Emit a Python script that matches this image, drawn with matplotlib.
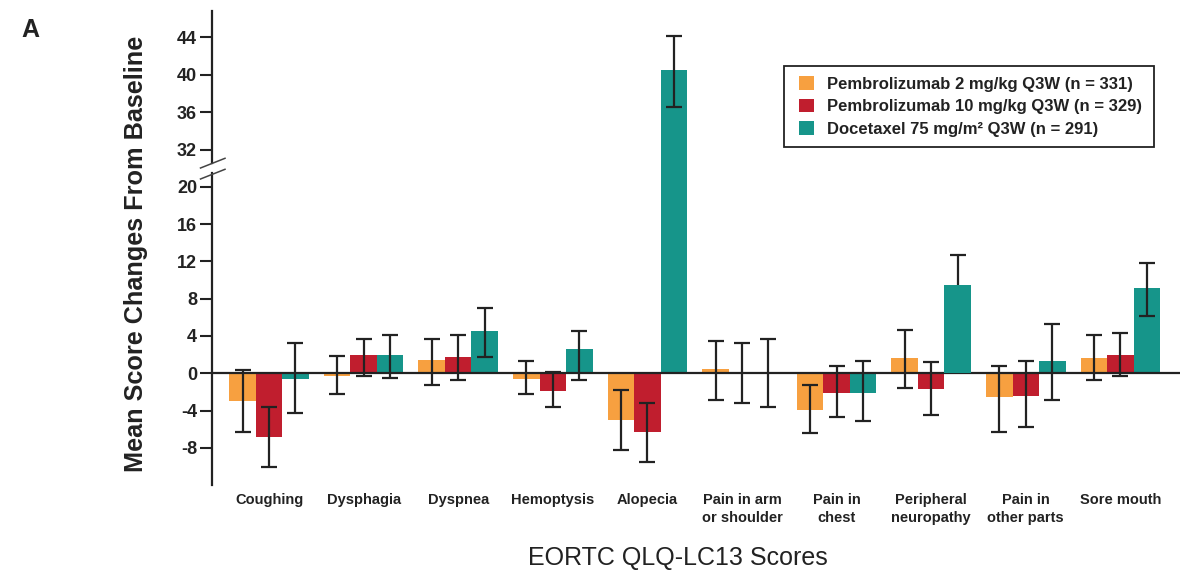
import numpy as np
import matplotlib
matplotlib.use("Agg")
import matplotlib.pyplot as plt
from matplotlib.patches import Patch, Rectangle
from matplotlib.lines import Line2D

plt.rcParams['font.family'] = ['Liberation Sans', 'DejaVu Sans']
plt.rcParams['axes.unicode_minus'] = False

categories = ["Coughing", "Dysphagia", "Dyspnea", "Hemoptysis", "Alopecia",
              "Pain in arm\nor shoulder", "Pain in\nchest", "Peripheral\nneuropathy",
              "Pain in\nother parts", "Sore mouth"]

series_names = ["Pembrolizumab 2 mg/kg Q3W (n = 331)",
                "Pembrolizumab 10 mg/kg Q3W (n = 329)",
                "Docetaxel 75 mg/m\u00b2 Q3W (n = 291)"]

pem2 = [-3.0, -0.3, 1.4, -0.6, -5.0, 0.5, -3.9, 1.6, -2.5, 1.6]
pem2_lo = [-6.3, -2.2, -1.2, -2.2, -8.2, -2.9, -6.4, -1.6, -6.3, -0.7]
pem2_hi = [0.4, 1.9, 3.7, 1.3, -1.8, 3.5, -1.2, 4.6, 0.8, 4.1]

pem10 = [-6.8, 2.0, 1.8, -1.9, -6.3, 0.0, -2.1, -1.7, -2.4, 2.0]
pem10_lo = [-10.0, -0.25, -0.7, -3.6, -9.5, -3.2, -4.65, -4.45, -5.8, -0.3]
pem10_hi = [-3.6, 3.7, 4.1, 0.15, -3.15, 3.3, 0.8, 1.25, 1.3, 4.35]

doc = [-0.6, 2.0, 4.5, 2.65, 40.5, 0.0, -2.1, 9.5, 1.35, 9.1]
doc_lo = [-4.25, -0.5, 1.7, -0.7, 36.6, -3.6, -5.1, 6.3, -2.9, 6.1]
doc_hi = [3.25, 4.15, 7.0, 4.55, 44.15, 3.7, 1.3, 12.7, 5.3, 11.8]

colors = ["#F7A040", "#C01E2E", "#16958A"]
ink = "#222222"

W, H = 1184, 573
fig = plt.figure(figsize=(W / 100, H / 100), dpi=100)

# two stacked panels with the same vertical scale; the lower one reaches up
# to the upper one so tall bars run continuously across the break
left, right = 211.7 / W, 1180 / W
ax_top = fig.add_axes([left, 1 - 163 / H, right - left, (163 - 11) / H])
ax_bot = fig.add_axes([left, 1 - 485 / H, right - left, (485 - 163) / H])

x = np.arange(len(categories))
bw = 0.28
series = [(pem2, pem2_lo, pem2_hi), (pem10, pem10_lo, pem10_hi), (doc, doc_lo, doc_hi)]

for ax in (ax_top, ax_bot):
    for k, (vals, lo, hi) in enumerate(series):
        vals = np.array(vals); lo = np.array(lo); hi = np.array(hi)
        xs = x + (k - 1) * bw
        bars = ax.bar(xs, vals, width=bw, color=colors[k], zorder=2, linewidth=0)
        ax.errorbar(xs, vals, yerr=[vals - lo, hi - vals], fmt='none',
                    ecolor=ink, elinewidth=1.6, capsize=5.5, capthick=1.6, zorder=3)
        if k == 2:
            # the neuropathy docetaxel bar hides the lower half of its interval
            bars[7].set_zorder(4)
    ax.set_xlim((211.7 - 269) / 94.6, (1180 - 269) / 94.6)
    for s in ("top", "right", "bottom"):
        ax.spines[s].set_visible(False)
    ax.spines["left"].set_linewidth(1.6)
    ax.spines["left"].set_color(ink)
    ax.tick_params(axis="y", direction="out", length=9, width=1.5, color=ink,
                   pad=1.5, labelsize=13, labelcolor=ink)
    for lab in ax.get_yticklabels():
        lab.set_fontweight("bold")
    ax.set_facecolor("none")

ax_top.set_ylim(30.6, 46.8)
ax_top.set_yticks([32, 36, 40, 44])
ax_top.set_yticklabels(["32", "36", "40", "44"], fontweight="bold")
ax_top.set_xticks([])

ax_bot.set_ylim(-11.97, 22.54)
ax_bot.spines["left"].set_bounds(-11.97, 21.47)
bot_ticks = [-8, -4, 0, 4, 8, 12, 16, 20]
ax_bot.set_yticks(bot_ticks)
ax_bot.set_yticklabels([str(t) for t in bot_ticks], fontweight="bold")
ax_bot.axhline(0, color=ink, lw=1.6, zorder=2.5)
ax_bot.set_xticks(x)
ax_bot.set_xticklabels(categories, fontsize=10.5, fontweight="bold", color=ink,
                       linespacing=1.3, va="top")
ax_bot.tick_params(axis="x", length=0, pad=6)

# axis break marks
for y0, y1 in ((168, 158.3), (179, 169.3)):
    fig.add_artist(Line2D([200.5 / W, 225 / W], [1 - y0 / H, 1 - y1 / H],
                          color="#444444", lw=1.1, transform=fig.transFigure))

fig.text(21 / W, 1 - 30 / H, "A", fontsize=18, fontweight="bold", color=ink,
         ha="left", va="center")
fig.text(136 / W, 1 - 254 / H, "Mean Score Changes From Baseline", rotation=90,
         fontsize=18.2, fontweight="bold", color=ink, ha="center", va="center")
fig.text(678 / W, 1 - 558 / H, "EORTC QLQ-LC13 Scores", fontsize=18, color=ink,
         ha="center", va="center")

handles = [Patch(facecolor=c, edgecolor="none") for c in colors]
fig.add_artist(Rectangle((784 / W, 1 - 147 / H), (1154 - 784) / W, (147 - 66) / H,
                         transform=fig.transFigure, fill=False, edgecolor=ink, lw=1.3))
fig.legend(handles, series_names, loc="upper left",
           bbox_to_anchor=(799 / W, 1 - 76 / H), frameon=False,
           borderpad=0, borderaxespad=0, handlelength=0.9, handleheight=0.9,
           handletextpad=0.8, labelspacing=0.41,
           prop={"size": 12, "weight": "bold"}, labelcolor=ink)

fig.savefig("out.png", dpi=100)
